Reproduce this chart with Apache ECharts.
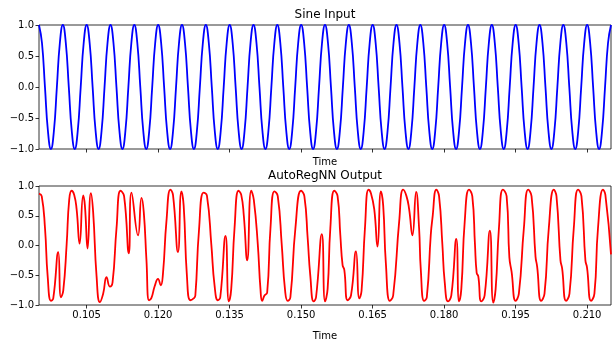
<!DOCTYPE html>
<html lang="en">
<head>
    <meta charset="UTF-8">
    <title>Sine Input / AutoRegNN Output</title>
    <style>
        html, body {
            margin: 0;
            padding: 0;
            background: #ffffff;
        }

        #chart {
            width: 612px;
            height: 342px;
        }
    </style>
</head>
<body>
<div id="chart"></div>
<script src="https://cdn.jsdelivr.net/npm/echarts@6/dist/echarts.min.js"></script>
<script type="text/javascript">
    // time axis
    const timeMin = 0.095;
    const timeMax = 0.215;
    const timeTicks = [0.105, 0.120, 0.135, 0.150, 0.165, 0.180, 0.195, 0.210];
    const valueTicks = [-1.0, -0.5, 0.0, 0.5, 1.0];

    // sine input, sampled every 0.000625 s from 0.095 (8 samples per cycle)
    const sineStart = 0.095;
    const sineStep = 0.000625;
    const sineInput = [
        1, 0.71, 0, -0.71, -1, -0.71, 0, 0.71,
        1, 0.71, 0, -0.71, -1, -0.71, 0, 0.71,
        1, 0.71, 0, -0.71, -1, -0.71, 0, 0.71,
        1, 0.71, 0, -0.71, -1, -0.71, 0, 0.71,
        1, 0.71, 0, -0.71, -1, -0.71, 0, 0.71,
        1, 0.71, 0, -0.71, -1, -0.71, 0, 0.71,
        1, 0.71, 0, -0.71, -1, -0.71, 0, 0.71,
        1, 0.71, 0, -0.71, -1, -0.71, 0, 0.71,
        1, 0.71, 0, -0.71, -1, -0.71, 0, 0.71,
        1, 0.71, 0, -0.71, -1, -0.71, 0, 0.71,
        1, 0.71, 0, -0.71, -1, -0.71, 0, 0.71,
        1, 0.71, 0, -0.71, -1, -0.71, 0, 0.71,
        1, 0.71, 0, -0.71, -1, -0.71, 0, 0.71,
        1, 0.71, 0, -0.71, -1, -0.71, 0, 0.71,
        1, 0.71, 0, -0.71, -1, -0.71, 0, 0.71,
        1, 0.71, 0, -0.71, -1, -0.71, 0, 0.71,
        1, 0.71, 0, -0.71, -1, -0.71, 0, 0.71,
        1, 0.71, 0, -0.71, -1, -0.71, 0, 0.71,
        1, 0.71, 0, -0.71, -1, -0.71, 0, 0.71,
        1, 0.71, 0, -0.71, -1, -0.71, 0, 0.71,
        1, 0.71, 0, -0.71, -1, -0.71, 0, 0.71,
        1, 0.71, 0, -0.71, -1, -0.71, 0, 0.71,
        1, 0.71, 0, -0.71, -1, -0.71, 0, 0.71,
        1, 0.71, 0, -0.71, -1, -0.71, 0, 0.71,
        1
    ];

    // network output, [time, value]
    const outputPoints = [
        [0.09500, 0.87], [0.09557, 0.83], [0.09626, 0.29], [0.09682, -0.52], [0.09751, -0.93], [0.09799, -0.89],
        [0.09904, -0.11], [0.09960, -0.87], [0.10009, -0.76], [0.10080, 0.02], [0.10134, 0.77], [0.10184, 0.92],
        [0.10239, 0.85], [0.10289, 0.61], [0.10352, 0.03], [0.10427, 0.84], [0.10463, 0.67], [0.10519, -0.05],
        [0.10588, 0.88], [0.10636, 0.56], [0.10708, -0.52], [0.10777, -0.95], [0.10846, -0.81], [0.10917, -0.53],
        [0.10986, -0.69], [0.11043, -0.62], [0.11126, 0.29], [0.11210, 0.92], [0.11285, 0.83], [0.11384, -0.13],
        [0.11440, 0.89], [0.11578, 0.17], [0.11650, 0.80], [0.11698, 0.56], [0.11754, -0.24], [0.11809, -0.92],
        [0.11859, -0.88], [0.11928, -0.68], [0.11997, -0.56], [0.12054, -0.67], [0.12102, -0.46], [0.12173, 0.40],
        [0.12257, 0.94], [0.12311, 0.85], [0.12416, -0.11], [0.12487, 0.91], [0.12535, 0.67], [0.12604, -0.52],
        [0.12675, -0.92], [0.12744, -0.89], [0.12780, -0.84], [0.12855, 0.24], [0.12953, 0.89], [0.13023, 0.84],
        [0.13115, 0.02], [0.13184, -0.68], [0.13253, -0.92], [0.13303, -0.87], [0.13414, 0.16], [0.13483, -0.94],
        [0.13533, -0.73], [0.13602, 0.29], [0.13686, 0.92], [0.13743, 0.85], [0.13797, 0.50], [0.13868, -0.25],
        [0.13952, 0.92], [0.14006, 0.77], [0.14090, 0.02], [0.14146, -0.73], [0.14182, -0.93], [0.14230, -0.84],
        [0.14287, -0.79], [0.14356, 0.29], [0.14439, 0.91], [0.14509, 0.83], [0.14592, 0.02], [0.14663, -0.76],
        [0.14718, -0.93], [0.14774, -0.87], [0.14879, 0.29], [0.14998, 0.92], [0.15067, 0.83], [0.15136, 0.13],
        [0.15193, -0.52], [0.15262, -0.94], [0.15312, -0.87], [0.15434, 0.19], [0.15501, -0.94], [0.15555, -0.73],
        [0.15612, 0.29], [0.15695, 0.92], [0.15764, 0.83], [0.15821, 0.18], [0.15869, -0.33], [0.15905, -0.41],
        [0.15974, -0.92], [0.16045, -0.84], [0.16150, -0.10], [0.16219, -0.89], [0.16267, -0.76], [0.16338, 0.29],
        [0.16413, 0.94], [0.16463, 0.88], [0.16533, 0.61], [0.16602, -0.02], [0.16673, 0.91], [0.16721, 0.67],
        [0.16777, -0.30], [0.16861, -0.93], [0.16930, -0.84], [0.17056, 0.40], [0.17139, 0.94], [0.17209, 0.83],
        [0.17265, 0.61], [0.17334, 0.17], [0.17412, 0.90], [0.17474, 0.29], [0.17510, -0.41], [0.17579, -0.93],
        [0.17636, -0.87], [0.17719, 0.18], [0.17753, 0.45], [0.17836, 0.94], [0.17893, 0.83], [0.17962, 0.02],
        [0.18012, -0.62], [0.18081, -0.94], [0.18150, -0.84], [0.18255, 0.11], [0.18312, -0.94], [0.18360, -0.73],
        [0.18431, 0.40], [0.18521, 0.94], [0.18590, 0.83], [0.18646, 0.02], [0.18682, -0.46], [0.18716, -0.52],
        [0.18778, -0.94], [0.18849, -0.84], [0.18960, 0.25], [0.19029, -0.96], [0.19080, -0.73], [0.19149, 0.29],
        [0.19232, 0.94], [0.19310, 0.83], [0.19368, -0.20], [0.19414, -0.44], [0.19498, -0.93], [0.19567, -0.81],
        [0.19672, 0.29], [0.19762, 0.94], [0.19833, 0.83], [0.19917, -0.19], [0.19950, -0.35], [0.20034, -0.93],
        [0.20105, -0.81], [0.20195, 0.29], [0.20300, 0.94], [0.20356, 0.83], [0.20440, -0.25], [0.20474, -0.38],
        [0.20557, -0.93], [0.20629, -0.81], [0.20719, 0.29], [0.20809, 0.94], [0.20880, 0.83], [0.20963, -0.25],
        [0.20997, -0.37], [0.21081, -0.93], [0.21152, -0.81], [0.21227, 0.29], [0.21332, 0.94], [0.21382, 0.85],
        [0.21500, -0.15]
    ];

    const font = "'DejaVu Sans', sans-serif";

    function minusFmt(v, digits) {
        return v.toFixed(digits).replace('-', '\u2212');
    }

    function xAxisFor(gridIndex, withLabels, gap) {
        return {
            type: 'value',
            gridIndex: gridIndex,
            position: 'bottom',
            min: timeMin,
            max: timeMax,
            name: 'Time',
            nameLocation: 'middle',
            nameGap: gap,
            nameTextStyle: {fontFamily: font, fontSize: 10, color: '#000'},
            axisLine: {show: false, onZero: false},
            axisTick: {show: true, length: 3.5, customValues: timeTicks, lineStyle: {color: '#000', width: 0.8}},
            axisLabel: {
                show: withLabels,
                customValues: timeTicks,
                margin: 5,
                fontFamily: font,
                fontSize: 10,
                color: '#000',
                formatter: v => minusFmt(v, 3)
            },
            splitLine: {show: false}
        };
    }

    function yAxisFor(gridIndex) {
        return {
            type: 'value',
            gridIndex: gridIndex,
            position: 'left',
            min: -1,
            max: 1,
            interval: 0.5,
            axisLine: {show: false, onZero: false},
            axisTick: {show: true, length: 3.5, customValues: valueTicks, lineStyle: {color: '#000', width: 0.8}},
            axisLabel: {
                margin: 5,
                customValues: valueTicks,
                fontFamily: font,
                fontSize: 10,
                color: '#000',
                formatter: v => minusFmt(v, 1)
            },
            splitLine: {show: false}
        };
    }

    let myChart = echarts.init(document.getElementById('chart'), null, {renderer: 'canvas'});

    myChart.setOption({
        animation: false,
        backgroundColor: '#ffffff',
        title: [
            {
                text: 'Sine Input', left: 325, top: 9, textAlign: 'center', padding: 0,
                textStyle: {fontFamily: font, fontSize: 12, fontWeight: 'normal', color: '#000'}
            },
            {
                text: 'AutoRegNN Output', left: 325, top: 170, textAlign: 'center', padding: 0,
                textStyle: {fontFamily: font, fontSize: 12, fontWeight: 'normal', color: '#000'}
            }
        ],
        grid: [
            {left: 39, top: 25, width: 572, height: 124, show: true, borderColor: '#000', borderWidth: 0.8},
            {left: 39, top: 186, width: 572, height: 124, show: true, borderColor: '#000', borderWidth: 0.8}
        ],
        xAxis: [xAxisFor(0, false, 8), xAxisFor(1, true, 26)],
        yAxis: [yAxisFor(0), yAxisFor(1)],
        series: [
            {
                name: 'Sine Input',
                type: 'line',
                xAxisIndex: 0,
                yAxisIndex: 0,
                data: sineInput.map((v, i) => [sineStart + i * sineStep, v]),
                smooth: true,
                showSymbol: false,
                lineStyle: {color: '#0000ff', width: 1.8},
                clip: true
            },
            {
                name: 'AutoRegNN Output',
                type: 'line',
                xAxisIndex: 1,
                yAxisIndex: 1,
                data: outputPoints,
                smooth: true,
                showSymbol: false,
                lineStyle: {color: '#ff0000', width: 1.8},
                clip: true
            }
        ]
    });
</script>
</body>
</html>
